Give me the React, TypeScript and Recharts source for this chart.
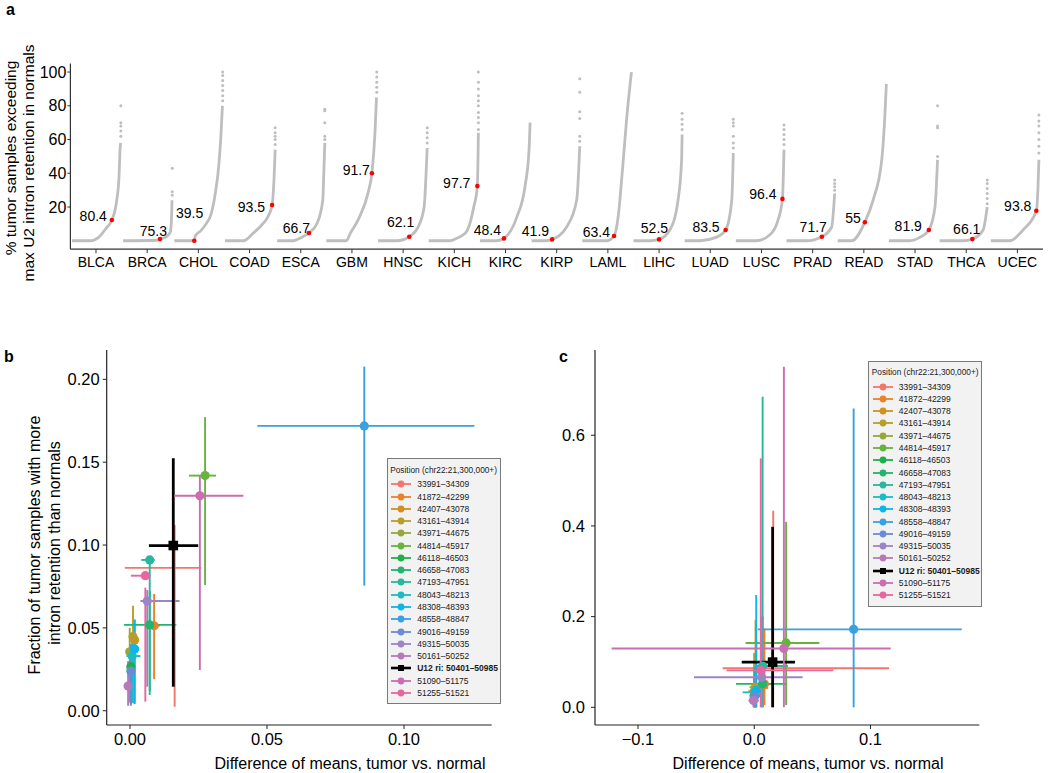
import React from 'react';
import { ComposedChart, ScatterChart, Scatter, Line, XAxis, YAxis, ErrorBar } from 'recharts';

const FONT = '"Liberation Sans", Arial, Helvetica, sans-serif';

// ---------- Panel a data ----------
const CANCERS = ['BLCA', 'BRCA', 'CHOL', 'COAD', 'ESCA', 'GBM', 'HNSC', 'KICH', 'KIRC', 'KIRP', 'LAML', 'LIHC', 'LUAD', 'LUSC', 'PRAD', 'READ', 'STAD', 'THCA', 'UCEC'];
const PCT_LABELS = ['80.4', '75.3', '39.5', '93.5', '66.7', '91.7', '62.1', '97.7', '48.4', '41.9', '63.4', '52.5', '83.5', '96.4', '71.7', '55', '81.9', '66.1', '93.8'];
const DOT_X = [0.31, 0.25, -0.08, 0.44, 0.16, 0.39, 0.12, 0.45, -0.03, -0.09, 0.12, 0, 0.3, 0.41, 0.18, 0.02, 0.27, 0.12, 0.37];
const DOT_Y = [12.3, 1, 0, 21.2, 4.6, 40, 2.4, 32.4, 1.4, 0.8, 2.8, 0.8, 6.4, 24.8, 2.4, 11, 6.4, 1, 17.8];
// curve points: [offset within category, % value]
const CURVES: number[][][] = [
  [[-0.47, 0], [-0.1, 0], [0.05, 2], [0.2, 7.5], [0.31, 12.3], [0.4, 23], [0.45, 38], [0.47, 54], [0.48, 58]],
  [[-0.47, 0], [0.19, 0.3], [0.25, 1], [0.38, 2.5], [0.45, 5], [0.47, 10], [0.48, 18], [0.485, 24]],
  [[-0.47, 0], [-0.08, 0], [-0.06, 3], [0.05, 6], [0.15, 10], [0.25, 16], [0.33, 28], [0.4, 45], [0.44, 62], [0.47, 80]],
  [[-0.48, 0], [-0.12, 0], [0.07, 4.5], [0.27, 10.4], [0.36, 14.3], [0.44, 21.2], [0.48, 38], [0.5, 54]],
  [[-0.46, 0], [-0.15, 0], [0.04, 2.4], [0.16, 4.6], [0.32, 10.4], [0.43, 24], [0.45, 40], [0.47, 58]],
  [[-0.5, 0], [-0.11, 0], [-0.03, 4.5], [0.13, 13], [0.32, 29], [0.39, 40], [0.45, 64], [0.48, 85]],
  [[-0.49, 0], [-0.12, 0], [0.12, 2.4], [0.29, 8], [0.41, 20], [0.46, 48], [0.47, 55]],
  [[-0.5, 0], [-0.09, 0], [0.05, 1.5], [0.15, 3], [0.25, 6], [0.32, 12], [0.38, 20], [0.45, 32.4], [0.47, 64]],
  [[-0.5, 0], [-0.17, 0], [-0.03, 1.4], [0.22, 14], [0.38, 32], [0.46, 54], [0.48, 70]],
  [[-0.49, 0], [-0.2, 0], [-0.09, 0.8], [0.19, 8], [0.39, 24], [0.45, 56]],
  [[-0.5, 0], [-0.03, 0], [0.12, 2.8], [0.2, 14], [0.29, 44], [0.37, 73.5], [0.46, 100]],
  [[-0.5, 0], [-0.18, 0], [0, 0.8], [0.21, 6.4], [0.37, 24], [0.44, 48], [0.45, 63]],
  [[-0.5, 0], [-0.2, 0], [0.11, 2], [0.3, 6.4], [0.42, 24], [0.45, 52]],
  [[-0.5, 0], [-0.1, 0], [0.16, 3.4], [0.32, 12], [0.41, 24.8], [0.44, 54]],
  [[-0.51, 0], [-0.12, 0], [0.18, 2.4], [0.37, 8], [0.43, 28]],
  [[-0.51, 0], [-0.24, 0], [0.02, 11], [0.18, 24], [0.35, 48], [0.41, 73.5], [0.44, 93]],
  [[-0.51, 0], [-0.1, 0], [0.09, 2], [0.27, 6.4], [0.39, 20], [0.44, 48]],
  [[-0.52, 0], [-0.06, 0], [0.12, 1], [0.33, 6.4], [0.41, 20]],
  [[-0.52, 0], [-0.15, 0], [0.11, 6.4], [0.37, 17.8], [0.4, 30], [0.42, 48]],
];
// separated high points above each curve: [offset, value]
const TOP_DOTS: number[][][] = [
  [[0.485, 62], [0.485, 65], [0.485, 68], [0.485, 70], [0.485, 80]],
  [[0.49, 27], [0.49, 29], [0.49, 43]],
  [[0.475, 83], [0.475, 86], [0.475, 89], [0.475, 92], [0.475, 95], [0.475, 98], [0.475, 100]],
  [[0.5, 57], [0.5, 60], [0.5, 62], [0.5, 64], [0.5, 67]],
  [[0.47, 60], [0.47, 62], [0.47, 70], [0.47, 77], [0.47, 78]],
  [[0.485, 88], [0.485, 91], [0.485, 94], [0.485, 97], [0.485, 100]],
  [[0.47, 58], [0.47, 61], [0.47, 64], [0.47, 67]],
  [[0.47, 66], [0.47, 70], [0.47, 73], [0.47, 76], [0.47, 80], [0.47, 83], [0.47, 86], [0.47, 90], [0.47, 94], [0.47, 100]],
  [],
  [[0.45, 59], [0.45, 62], [0.45, 72.5], [0.45, 76.5], [0.45, 88], [0.45, 96]],
  [],
  [[0.45, 66], [0.45, 69], [0.45, 72], [0.45, 75.5]],
  [[0.45, 55], [0.45, 58], [0.45, 62], [0.45, 68], [0.45, 70], [0.45, 72]],
  [[0.44, 57], [0.44, 60], [0.44, 63], [0.44, 66], [0.44, 68.6]],
  [[0.43, 30], [0.43, 32], [0.43, 34], [0.43, 36]],
  [],
  [[0.44, 50], [0.44, 67], [0.44, 68], [0.44, 80]],
  [[0.41, 22], [0.41, 25], [0.41, 28], [0.41, 31], [0.41, 34], [0.41, 36]],
  [[0.42, 52], [0.42, 56], [0.42, 60], [0.42, 64], [0.42, 68], [0.42, 71], [0.42, 74.6]],
];
const A_Y_TICKS = [20, 40, 60, 80, 100];
// label placement relative to the red dot (px)
const LABEL_DX = [-5, 7, 9, -7, 1, -2, 5, -7, -3, -3, -4, 9, -6, -6, 5, -4, -7, 8, -5];
const LABEL_DY = [-4, -8, -28, 2, -5, -3, -15, -3, -8, -8, -4, -11, -3, -5, -10, -4, -4, -10, -5];

// ---------- Panels b & c data ----------
const POSITIONS = ['33991–34309', '41872–42299', '42407–43078', '43161–43914', '43971–44675', '44814–45917', '46118–46503', '46658–47083', '47193–47951', '48043–48213', '48308–48393', '48558–48847', '49016–49159', '49315–50035', '50161–50252', 'U12 ri: 50401–50985', '51090–51175', '51255–51521'];
const POS_COLORS = ['#F3766E', '#E8832A', '#D39020', '#B89D28', '#97A838', '#66B33E', '#1FAF49', '#22B56F', '#26B79C', '#1BBCC4', '#0CB6E8', '#3AA1E0', '#6A8CD4', '#9C84C8', '#B67AB9', '#000000', '#CB6DB4', '#E8669F'];
const MEAN_DIFF = [0.0163, 0.0088, 0.0017, 0.0011, -0.0001, 0.0274, 0.0003, 0.0072, 0.0072, 0.0008, 0.0017, 0.0855, 0.0003, 0.0063, -0.0007, 0.0158, 0.0255, 0.0056];
const FRACTION = [0.0862, 0.0513, 0.0427, 0.0447, 0.0356, 0.1419, 0.0266, 0.0518, 0.091, 0.033, 0.0373, 0.1719, 0.024, 0.0662, 0.0149, 0.0997, 0.1297, 0.0815];
// whether a point marker is visible in the reference (the 33991 marker is not drawn)
const SHOW_POINT = [false, true, true, true, true, true, true, true, true, true, true, true, true, true, true, true, true, true];
// panel b intervals
const B_X_LO = [-0.0019, 0.0072, 0.0005, 0.0003, -0.001, 0.0215, -0.001, -0.0022, 0.0041, -0.0013, 0.0005, 0.0465, -0.001, 0.0038, -0.0015, 0.0069, 0.0161, 0.0003];
const B_X_HI = [0.026, 0.0108, 0.003, 0.002, 0.001, 0.0314, 0.0015, 0.0169, 0.009, 0.0038, 0.003, 0.1257, 0.0015, 0.0181, 0.0005, 0.0249, 0.0414, 0.0075];
const B_Y_LO = [0.0024, 0.019, 0.005, 0.0045, 0.005, 0.0759, 0.004, 0.012, 0.0095, 0.005, 0.004, 0.0755, 0.003, 0.0145, 0.003, 0.0145, 0.0246, 0.0055];
const B_Y_HI = [0.1121, 0.0705, 0.055, 0.0634, 0.05, 0.1772, 0.04, 0.072, 0.093, 0.045, 0.055, 0.2077, 0.04, 0.0729, 0.03, 0.1524, 0.1418, 0.0743];
// panel c intervals
const C_X_LO = [-0.0272, 0.002, -0.002, -0.004, -0.005, -0.0074, -0.004, -0.0157, 0.0006, -0.01, -0.003, 0.0029, -0.004, -0.0519, -0.005, -0.0108, -0.1227, -0.0238];
const C_X_HI = [0.116, 0.014, 0.012, 0.006, 0.005, 0.056, 0.005, 0.0273, 0.029, 0.0049, 0.006, 0.1785, 0.005, 0.0416, 0.004, 0.035, 0.1174, 0.068];
const C_Y_LO = [0, 0.005, 0, 0, 0, 0.005, 0, 0, 0, 0, 0, 0, 0, 0, 0, 0, 0, 0];
const C_Y_HI = [0.4336, 0.174, 0.15, 0.1925, 0.12, 0.409, 0.09, 0.2, 0.685, 0.09, 0.2476, 0.659, 0.07, 0.2, 0.05, 0.398, 0.751, 0.549];

const U12_INDEX = 15;

// ---------- helpers ----------
const curveData = CURVES.map((c, i) => c.map(([o, v]) => ({ x: i + 1 + o, y: v })));
const topDotData = TOP_DOTS.flatMap((c, i) => c.map(([o, v]) => ({ x: i + 1 + o, y: v })));
const redDotData = CANCERS.map((name, i) => ({ x: i + 1 + DOT_X[i], y: DOT_Y[i], label: PCT_LABELS[i], idx: i }));

const seriesData = (panel: 'b' | 'c') =>
  POSITIONS.map((p, i) => {
    const xlo = panel === 'b' ? B_X_LO[i] : C_X_LO[i];
    const xhi = panel === 'b' ? B_X_HI[i] : C_X_HI[i];
    const ylo = panel === 'b' ? B_Y_LO[i] : C_Y_LO[i];
    const yhi = panel === 'b' ? B_Y_HI[i] : C_Y_HI[i];
    const x = MEAN_DIFF[i];
    const y = FRACTION[i];
    return [{ x, y, ex: [x - xlo, xhi - x], ey: [y - ylo, yhi - y] }];
  });

const AXIS_COLOR = '#222';

const RedDot = (props: any) => {
  const { cx, cy, payload } = props;
  if (cx == null || cy == null) return null;
  const i = payload.idx;
  return (
    <g>
      <circle cx={cx} cy={cy} r={2.3} fill="#FF0000" />
      <text x={cx + LABEL_DX[i]} y={cy + LABEL_DY[i]} textAnchor="end" dominantBaseline="central" fontSize={14} fontFamily={FONT} fill="#000">
        {payload.label}
      </text>
    </g>
  );
};

const GreyDot = (props: any) => {
  const { cx, cy } = props;
  if (cx == null || cy == null) return null;
  return <circle cx={cx} cy={cy} r={1.5} fill="#BEBEBE" />;
};

const makePointShape = (color: string, square: boolean, show: boolean) => (props: any) => {
  const { cx, cy } = props;
  if (cx == null || cy == null || !show) return <g />;
  return square ? (
    <rect x={cx - 4.8} y={cy - 4.8} width={9.6} height={9.6} fill={color} />
  ) : (
    <circle cx={cx} cy={cy} r={4.6} fill={color} />
  );
};

function PosLegend({ left, top }: { left: number; top: number }) {
  return (
    <div
      style={{
        position: 'absolute',
        left,
        top,
        width: 114,
        height: 246,
        background: '#F2F2F2',
        border: '1.2px solid #7A7A7A',
        boxSizing: 'border-box',
        fontFamily: FONT,
        color: '#1a1a1a',
      }}
    >
      <div style={{ position: 'absolute', left: 2.5, top: 5.5, fontSize: 8.3, lineHeight: '11px', whiteSpace: 'nowrap' }}>
        Position (chr22:21,300,000+)
      </div>
      {POSITIONS.map((p, i) => {
        const isU12 = i === U12_INDEX;
        const color = POS_COLORS[i];
        return (
          <div key={p} style={{ position: 'absolute', left: 0, top: 25 + i * 12.27 - 6, height: 12, width: '100%' }}>
            <svg width={24} height={12} style={{ position: 'absolute', left: 2.5, top: 0 }}>
              <line x1={1} x2={21} y1={6} y2={6} stroke={color} strokeWidth={isU12 ? 2.6 : 1.8} />
              {isU12 ? <rect x={8} y={3} width={6} height={6} fill={color} /> : <circle cx={11} cy={6} r={3.4} fill={color} />}
            </svg>
            <span
              style={{
                position: 'absolute',
                left: 29.5,
                top: 0,
                lineHeight: '12px',
                fontSize: 8.5,
                whiteSpace: 'nowrap',
                fontWeight: isU12 ? 'bold' : 'normal',
              }}
            >
              {p}
            </span>
          </div>
        );
      })}
    </div>
  );
}

function ErrorPanel({ panel }: { panel: 'b' | 'c' }) {
  const data = seriesData(panel);
  const isB = panel === 'b';
  const width = isB ? 520 : 530;
  const xDomain = isB ? [-0.0085, 0.132] : [-0.137, 0.1936];
  const yDomain = isB ? [-0.0086, 0.2177] : [-0.039, 0.788];
  const xTicks = isB ? [0, 0.05, 0.1] : [-0.1, 0, 0.1];
  const yTicks = isB ? [0, 0.05, 0.1, 0.15, 0.2] : [0, 0.2, 0.4, 0.6];
  const fmtX = (v: number) => (isB ? v.toFixed(2) : v < 0 ? '\u2212' + Math.abs(v).toFixed(1) : v.toFixed(1));
  const fmtY = (v: number) => (isB ? v.toFixed(2) : v.toFixed(1));
  const yAxisWidth = isB ? 50 : 40;
  const margin = isB
    ? { top: 20, right: 28.3, bottom: 18, left: 56.7 }
    : { top: 20, right: 70.7, bottom: 18, left: 35 };
  return (
    <ScatterChart width={width} height={443} margin={margin}>
      <XAxis
        type="number"
        dataKey="x"
        domain={xDomain}
        ticks={xTicks}
        allowDataOverflow
        tickFormatter={fmtX}
        height={30}
        interval={0}
        tickSize={4}
        tickMargin={4}
        axisLine={{ stroke: AXIS_COLOR, strokeWidth: 1.2 }}
        tickLine={{ stroke: AXIS_COLOR }}
        tick={{ fontSize: 16.5, fill: '#000', fontFamily: FONT }}
      />
      <YAxis
        type="number"
        dataKey="y"
        domain={yDomain}
        ticks={yTicks}
        allowDataOverflow
        tickFormatter={fmtY}
        width={yAxisWidth}
        interval={0}
        tickSize={4}
        tickMargin={isB ? 3 : 6}
        axisLine={{ stroke: AXIS_COLOR, strokeWidth: 1.2 }}
        tickLine={{ stroke: AXIS_COLOR }}
        tick={{ fontSize: 16.5, fill: '#000', fontFamily: FONT }}
      />
      {POSITIONS.map((p, i) => {
        const isU12 = i === U12_INDEX;
        const color = POS_COLORS[i];
        const sw = isU12 ? 2.8 : 1.9;
        return (
          <Scatter
            key={p}
            name={p}
            data={data[i]}
            fill={color}
            shape={makePointShape(color, isU12, SHOW_POINT[i])}
            isAnimationActive={false}
          >
            <ErrorBar dataKey="ex" direction="x" width={0} stroke={color} strokeWidth={sw} isAnimationActive={false} />
            <ErrorBar dataKey="ey" direction="y" width={0} stroke={color} strokeWidth={sw} isAnimationActive={false} />
          </Scatter>
        );
      })}
    </ScatterChart>
  );
}

export default function App() {
  return (
    <div style={{ position: 'absolute', left: 0, top: 0, width: 1050, height: 773, background: '#fff', fontFamily: FONT, overflow: 'hidden' }}>
      {/* Panel a */}
      <div style={{ position: 'absolute', left: 0, top: 0 }}>
        <ComposedChart width={1050} height={300} margin={{ top: 63.6, right: 7, bottom: 20.8, left: 30.4 }}>
          <XAxis
            type="number"
            dataKey="x"
            domain={[0.5, 19.5]}
            ticks={CANCERS.map((_, i) => i + 1)}
            allowDataOverflow
            interval={0}
            tickFormatter={(v: number) => CANCERS[Math.round(v) - 1]}
            height={30}
            tickSize={4}
            tickMargin={4}
            axisLine={{ stroke: '#333', strokeWidth: 1.2 }}
            tickLine={{ stroke: '#333' }}
            tick={{ fontSize: 14, fill: '#000', fontFamily: FONT }}
          />
          <YAxis
            type="number"
            dataKey="y"
            domain={[-5, 105]}
            ticks={A_Y_TICKS}
            allowDataOverflow
            interval={0}
            width={40}
            tickSize={3}
            tickMargin={1}
            axisLine={{ stroke: '#333', strokeWidth: 1.2 }}
            tickLine={{ stroke: '#333' }}
            tick={{ fontSize: 16, fill: '#000', fontFamily: FONT }}
          />
          {CANCERS.map((c, i) => (
            <Line
              key={c}
              data={curveData[i]}
              dataKey="y"
              type="monotone"
              stroke="#BEBEBE"
              strokeWidth={2.8}
              dot={false}
              activeDot={false}
              isAnimationActive={false}
            />
          ))}
          <Scatter data={topDotData} dataKey="y" shape={GreyDot} isAnimationActive={false} />
          <Scatter data={redDotData} dataKey="y" shape={RedDot} isAnimationActive={false} />
        </ComposedChart>
      </div>

      {/* Panel b */}
      <div style={{ position: 'absolute', left: 0, top: 330 }}>
        <ErrorPanel panel="b" />
      </div>
      {/* Panel c */}
      <div style={{ position: 'absolute', left: 520, top: 330 }}>
        <ErrorPanel panel="c" />
      </div>

      <PosLegend left={386.7} top={458.3} />
      <PosLegend left={868.3} top={360.7} />

      {/* titles and panel letters */}
      <svg width={1050} height={773} style={{ position: 'absolute', left: 0, top: 0, pointerEvents: 'none' }}>
        <text x={6} y={15} fontSize={16} fontWeight="bold" fontFamily={FONT}>a</text>
        <text x={4} y={362} fontSize={16} fontWeight="bold" fontFamily={FONT}>b</text>
        <text x={559} y={362} fontSize={16} fontWeight="bold" fontFamily={FONT}>c</text>

        <text transform="translate(10,158) rotate(-90)" textAnchor="middle" dominantBaseline="central" fontSize={15.5} fontFamily={FONT}>
          % tumor samples exceeding
        </text>
        <text transform="translate(28,163) rotate(-90)" textAnchor="middle" dominantBaseline="central" fontSize={15.5} fontFamily={FONT}>
          max U2 intron retention in normals
        </text>

        <text transform="translate(34,545) rotate(-90)" textAnchor="middle" dominantBaseline="central" fontSize={16} fontFamily={FONT}>
          Fraction of tumor samples with more
        </text>
        <text transform="translate(54,543) rotate(-90)" textAnchor="middle" dominantBaseline="central" fontSize={16} fontFamily={FONT}>
          intron retention than normals
        </text>

        <text x={350} y={763} textAnchor="middle" dominantBaseline="central" fontSize={16} fontFamily={FONT}>
          Difference of means, tumor vs. normal
        </text>
        <text x={808} y={763} textAnchor="middle" dominantBaseline="central" fontSize={16} fontFamily={FONT}>
          Difference of means, tumor vs. normal
        </text>
      </svg>
    </div>
  );
}
